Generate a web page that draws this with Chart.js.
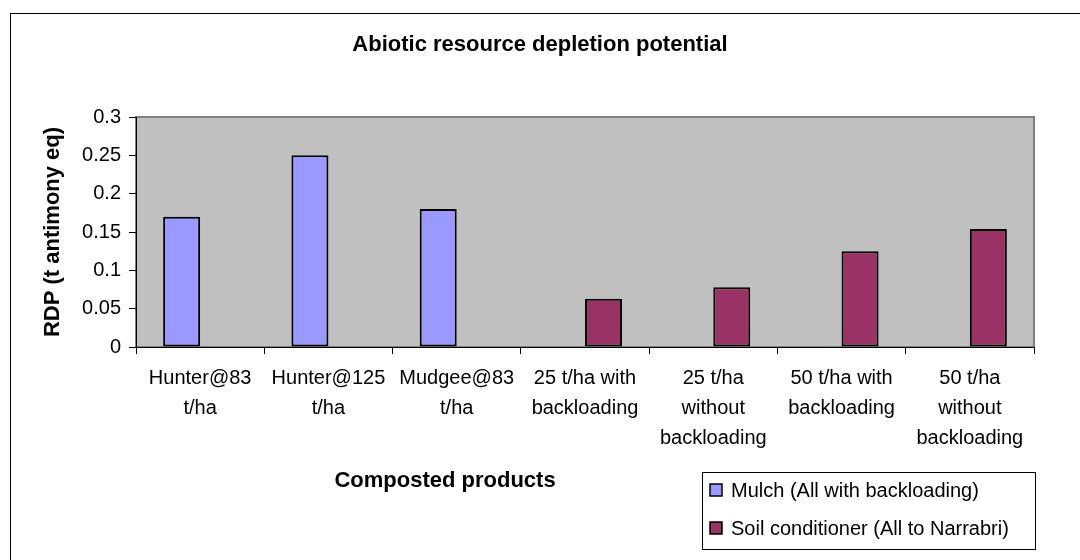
<!DOCTYPE html>
<html>
<head>
<meta charset="utf-8">
<script src="https://cdn.jsdelivr.net/npm/chart.js@4.4.0/dist/chart.umd.min.js"></script>
<style>
  html, body { margin: 0; padding: 0; background: #ffffff; }
  #wrap { width: 1080px; height: 560px; position: relative; }
</style>
</head>
<body>
<div id="wrap"><canvas id="rdpChart" width="1080" height="560"></canvas></div>
<script>
// categories (multi-line tick labels)
const categories = [
  ["Hunter@83", "t/ha"],
  ["Hunter@125", "t/ha"],
  ["Mudgee@83", "t/ha"],
  ["25 t/ha with", "backloading"],
  ["25 t/ha", "without", "backloading"],
  ["50 t/ha with", "backloading"],
  ["50 t/ha", "without", "backloading"]
];

// RDP values, t antimony eq
const mulchValues = [0.17, 0.25, 0.18, null, null, null, null];
const soilValues = [null, null, null, 0.063, 0.078, 0.125, 0.154];

const seriesNames = ["Mulch (All with backloading)", "Soil conditioner (All to Narrabri)"];
const yTicks = [0, 0.05, 0.1, 0.15, 0.2, 0.25, 0.3];

const FONT = "Arial, 'Liberation Sans', sans-serif";

// grey plot area, outer frame, x title and legend box
const decorations = {
  id: 'decorations',
  beforeDraw(chart) {
    const ctx = chart.ctx;
    const a = chart.chartArea;
    ctx.save();
    ctx.fillStyle = '#ffffff';
    ctx.fillRect(0, 0, chart.width, chart.height);
    ctx.strokeStyle = '#000000';
    ctx.lineWidth = 1;
    ctx.strokeRect(10.5, 13.5, 1200, 700);
    ctx.fillStyle = '#c0c0c0';
    ctx.fillRect(a.left, a.top, a.right - a.left, a.bottom - a.top);
    ctx.strokeStyle = '#808080';
    ctx.lineWidth = 2;
    ctx.strokeRect(a.left, a.top, a.right - a.left, a.bottom - a.top);
    ctx.restore();
  },
  afterDraw(chart) {
    const ctx = chart.ctx;
    ctx.save();
    ctx.fillStyle = '#000000';
    ctx.font = 'bold 22px ' + FONT;
    ctx.textAlign = 'center';
    ctx.textBaseline = 'middle';
    ctx.fillText('Composted products', 445, 481);

    // legend
    ctx.strokeStyle = '#000000';
    ctx.lineWidth = 1;
    ctx.strokeRect(702.5, 472.5, 333, 77);
    ctx.font = '20px ' + FONT;
    ctx.textAlign = 'left';
    const rows = [490, 528];
    chart.data.datasets.forEach((ds, i) => {
      const y = rows[i];
      ctx.fillStyle = ds.backgroundColor;
      ctx.fillRect(710, y - 6, 12, 12);
      ctx.lineWidth = 1.5;
      ctx.strokeRect(710, y - 6, 12, 12);
      ctx.fillStyle = '#000000';
      ctx.fillText(ds.label, 731, y + 1);
    });
    ctx.restore();
  }
};

new Chart(document.getElementById('rdpChart'), {
  type: 'bar',
  data: {
    labels: categories,
    datasets: [
      {
        label: seriesNames[0],
        data: mulchValues,
        backgroundColor: '#9999ff',
        borderColor: '#000000',
        borderWidth: 2,
        borderSkipped: false
      },
      {
        label: seriesNames[1],
        data: soilValues,
        backgroundColor: '#993366',
        borderColor: '#000000',
        borderWidth: 2,
        borderSkipped: false
      }
    ]
  },
  options: {
    responsive: false,
    animation: false,
    devicePixelRatio: 1,
    layout: { padding: 0 },
    datasets: {
      bar: { categoryPercentage: 0.577, barPercentage: 1.0 }
    },
    plugins: {
      legend: { display: false },
      tooltip: { enabled: false },
      title: {
        display: true,
        text: 'Abiotic resource depletion potential',
        color: '#000000',
        font: { family: FONT, size: 22, weight: 'bold', lineHeight: 1.2 },
        padding: { top: 32, bottom: 58.6 }
      }
    },
    scales: {
      x: {
        grid: {
          display: true,
          offset: true,
          drawOnChartArea: false,
          drawTicks: true,
          tickLength: 7,
          color: '#000000'
        },
        border: { display: true, color: '#000000', width: 1 },
        ticks: {
          color: '#000000',
          font: { family: FONT, size: 20, lineHeight: 1.5 },
          padding: 9,
          maxRotation: 0,
          autoSkip: false
        },
        afterFit(scale) { scale.height = 213; }
      },
      y: {
        min: 0,
        max: 0.3,
        afterBuildTicks(scale) {
          scale.ticks = yTicks.map(v => ({ value: v }));
        },
        grid: {
          display: true,
          drawOnChartArea: false,
          drawTicks: true,
          tickLength: 7,
          color: '#000000'
        },
        border: { display: true, color: '#000000', width: 1 },
        ticks: {
          color: '#000000',
          font: { family: FONT, size: 20 },
          padding: 8,
          callback: v => String(Number(v.toFixed(2)))
        },
        title: {
          display: true,
          text: 'RDP (t antimony eq)',
          color: '#000000',
          font: { family: FONT, size: 22, weight: 'bold', lineHeight: 1.2 },
          padding: { top: 40, bottom: 0 }
        },
        afterFit(scale) { scale.width = 136; }
      },
      // empty right-hand margin so the title centres on the full width
      margin: {
        type: 'linear',
        position: 'right',
        display: true,
        grid: { display: false },
        border: { display: false },
        ticks: { display: false },
        afterFit(scale) { scale.width = 46; }
      }
    }
  },
  plugins: [decorations]
});
</script>
</body>
</html>
